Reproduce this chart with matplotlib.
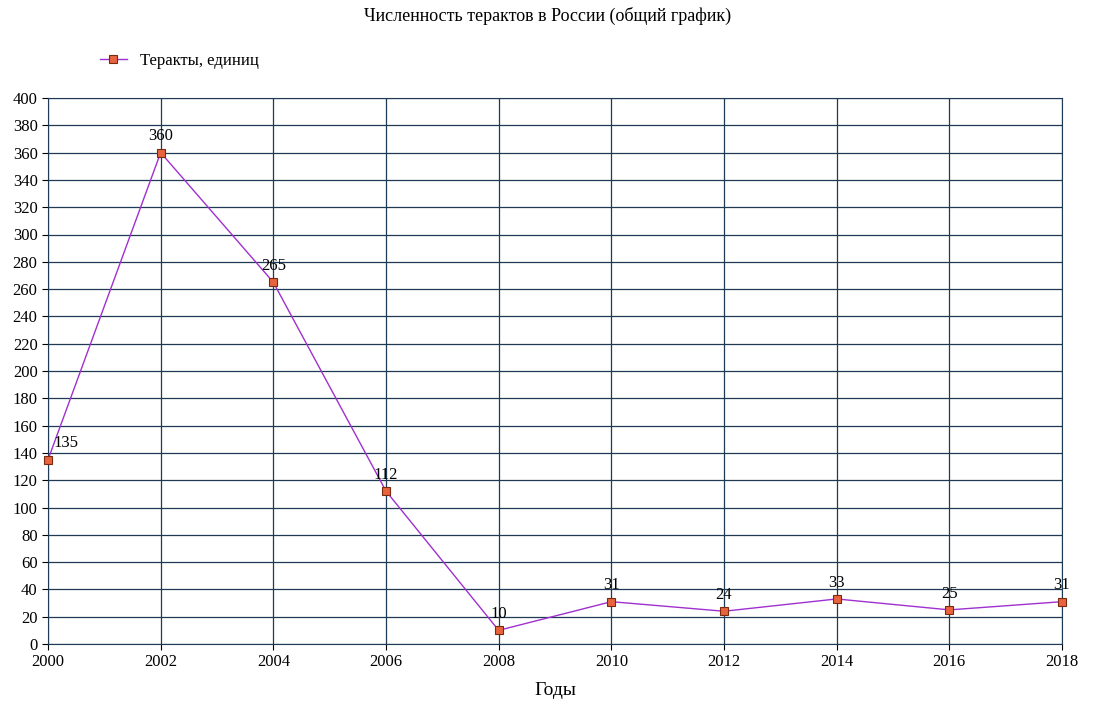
import matplotlib
matplotlib.use("Agg")
import matplotlib.pyplot as plt

years = [2000, 2002, 2004, 2006, 2008, 2010, 2012, 2014, 2016, 2018]
attacks = [135, 360, 265, 112, 10, 31, 24, 33, 25, 31]
yticks = list(range(0, 401, 20))

plt.rcParams["font.family"] = "Liberation Serif"

fig = plt.figure(figsize=(10.95, 7.17), dpi=100)
ax = fig.add_axes([48 / 1095, 1 - 644 / 717, (1062 - 48) / 1095, (644 - 98) / 717])

ax.plot(years, attacks, color="#a030d0", lw=1, marker="s", markersize=6,
        markerfacecolor="#e8643c", markeredgecolor="#7a2a10", markeredgewidth=0.8,
        label="Теракты, единиц", clip_on=False, zorder=3)
for x, y in zip(years, attacks):
    dx = 4 if x == 2000 else 0
    ax.annotate(str(y), (x, y), xytext=(dx, 6), textcoords="offset points",
                ha="left" if x == 2000 else "center", va="bottom", fontsize=12)

ax.set_xlim(2000, 2018)
ax.set_ylim(0, 400)
ax.set_xticks(years)
ax.set_yticks(yticks)
ax.tick_params(labelsize=12, length=4)
ax.grid(True, color="#1f3a55", lw=0.9)
for s in ax.spines.values():
    s.set_color("#1f3a55")
ax.set_xlabel("Годы", fontsize=14, labelpad=8)

fig.suptitle("Численность терактов в России (общий график)", fontsize=13, y=0.99)
fig.legend(loc="upper left", bbox_to_anchor=(85 / 1095, 1 - 38 / 717), frameon=False,
           fontsize=12, handlelength=1.6)

fig.savefig("out.png", dpi=100)
